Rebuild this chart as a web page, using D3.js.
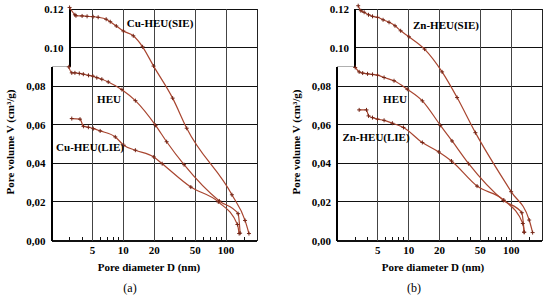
<!DOCTYPE html>
<html>
<head>
<meta charset="utf-8">
<script src="https://cdn.jsdelivr.net/npm/d3@7"></script>
<style>
  body { margin: 0; background: #fff; }
  text { font-family: "Liberation Serif", "Times New Roman", serif; }
</style>
</head>
<body>
<div id="chart"></div>
<script>
// pore diameter D (nm), pore volume V (cm3/g)
const cuSIE = [[3.0,0.1208],[3.38,0.117],[3.46,0.1165],[3.97,0.1164],[4.44,0.1162],[5.08,0.116],[5.69,0.1157],[6.81,0.1147],[7.46,0.1134],[8.54,0.1112],[10,0.1086],[12.5,0.1061],[15.4,0.1004],[19.7,0.0904],[30.2,0.0738],[41.4,0.0582],[114,0.0237],[153,0.0104],[167,0.0036]];
const cuHEU = [[2.95,0.09],[3.15,0.0869],[3.38,0.0869],[3.73,0.0866],[4.08,0.0862],[4.58,0.0856],[5.05,0.0852],[5.52,0.0844],[6.18,0.0836],[7.13,0.0822],[9.7,0.0782],[13.1,0.0725],[20.6,0.0597],[26.4,0.0512],[39,0.0393],[86,0.0205],[131,0.0139],[137,0.0038]];
const cuLIE = [[3.15,0.0632],[3.79,0.0629],[4.09,0.0592],[4.57,0.0587],[5.11,0.058],[5.95,0.0568],[8.35,0.0537],[10.1,0.0494],[13.1,0.0468],[19.8,0.0433],[23.9,0.0398],[45.4,0.0277],[84,0.02],[129,0.0083],[134,0.0036]];

const znSIE = [[3.22,0.1217],[3.42,0.1191],[3.68,0.1183],[4.06,0.117],[4.44,0.1162],[4.97,0.1157],[5.63,0.1144],[6.44,0.1131],[7.36,0.1113],[8.36,0.1087],[10.07,0.1056],[14.3,0.0992],[21.2,0.0874],[29.7,0.0741],[44.8,0.0559],[100,0.0253],[150,0.0106],[162,0.0041]];
const znHEU = [[3.01,0.0897],[3.29,0.0874],[3.56,0.0868],[3.97,0.0864],[4.44,0.0861],[4.97,0.0857],[5.76,0.0845],[7.2,0.0828],[9.7,0.0784],[13.6,0.0724],[20.4,0.0597],[26.5,0.0516],[38.5,0.0398],[84,0.0208],[127,0.0144],[134,0.0043]];
const znLIE = [[3.29,0.0677],[3.88,0.0677],[4.06,0.0646],[4.44,0.0637],[4.97,0.0629],[5.76,0.0623],[6.94,0.0608],[8.9,0.0586],[13.6,0.0508],[19.7,0.0459],[26.2,0.0412],[46.5,0.0282],[85,0.0209],[130,0.0088],[134,0.0043]];

const cuNames = ['Cu-HEU(SIE)', 'HEU', 'Cu-HEU(LIE)'];
const znNames = ['Zn-HEU(SIE)', 'HEU', 'Zn-HEU(LIE)'];
const panelLabels = ['(a)', '(b)'];

const yTicks = [0, 0.02, 0.04, 0.06, 0.08, 0.10, 0.12];
const xTicks = [5, 10, 20, 50, 100];
const xMinor = [3, 4, 6, 7, 8, 9, 30, 40, 60, 70, 80, 90, 150];
const xDomain = [2, 200];
const yDomain = [0, 0.12];
const stepD = 3;      // left edge of the extended upper part
const stepV = 0.09;   // height where the original plot ended

const xTitle = 'Pore diameter D (nm)';
const yTitle = 'Pore volume V (cm³/g)';

const width = 550, height = 300;
const svg = d3.select('#chart').append('svg')
    .attr('width', width)
    .attr('height', height)
    .attr('font-family', '"Liberation Serif", "Times New Roman", serif');

const lineColor = '#a8452f';
const markColor = '#742617';

function drawPanel(cfg) {
    const g = svg.append('g');
    const grid = g.append('g').attr('shape-rendering', 'crispEdges');
    const x = d3.scaleLog().domain(xDomain).range([cfg.x0, cfg.x1]);
    const y = d3.scaleLinear().domain(yDomain).range([240.5, 9]);

    // horizontal grid
    grid.selectAll('.hgrid')
        .data(yTicks)
        .enter().append('line')
        .attr('x1', d => d > stepV ? x(stepD) : x(xDomain[0]))
        .attr('x2', x(xDomain[1]))
        .attr('y1', d => y(d))
        .attr('y2', d => y(d))
        .attr('stroke', '#111')
        .attr('stroke-width', d => d === 0 ? 2 : 1);

    // vertical grid
    grid.selectAll('.vgrid')
        .data(xTicks)
        .enter().append('line')
        .attr('x1', d => x(d))
        .attr('x2', d => x(d))
        .attr('y1', y(yDomain[0]))
        .attr('y2', y(yDomain[1]))
        .attr('stroke', '#444')
        .attr('stroke-width', 1);

    // right border
    grid.append('line')
        .attr('x1', x(xDomain[1])).attr('x2', x(xDomain[1]))
        .attr('y1', y(0)).attr('y2', y(yDomain[1]))
        .attr('stroke', '#222').attr('stroke-width', 1);

    // left axis (lower part) and extended upper part
    grid.append('line')
        .attr('x1', x(xDomain[0])).attr('x2', x(xDomain[0]))
        .attr('y1', y(0)).attr('y2', y(stepV))
        .attr('stroke', '#000').attr('stroke-width', 2);
    grid.append('line')
        .attr('x1', x(xDomain[0])).attr('x2', x(stepD))
        .attr('y1', y(stepV)).attr('y2', y(stepV))
        .attr('stroke', '#b0b0b0').attr('stroke-width', 1);
    grid.append('line')
        .attr('x1', x(stepD)).attr('x2', x(stepD))
        .attr('y1', y(stepV)).attr('y2', y(yDomain[1]))
        .attr('stroke', '#000').attr('stroke-width', 2);

    // minor ticks on bottom axis
    grid.selectAll('.minor')
        .data(xMinor)
        .enter().append('line')
        .attr('x1', d => x(d)).attr('x2', d => x(d))
        .attr('y1', y(0)).attr('y2', y(0) - 4)
        .attr('stroke', '#111').attr('stroke-width', 1);

    // y tick labels
    g.selectAll('.ylab')
        .data(yTicks)
        .enter().append('text')
        .attr('x', d => (d > stepV ? x(stepD) : x(xDomain[0])) - 6)
        .attr('y', d => y(d) + 4)
        .attr('text-anchor', 'end')
        .attr('font-size', 11)
        .attr('font-weight', 'bold')
        .text(d => d > stepV ? d3.format('.2f')(d) : d3.format('.2f')(d).replace('.', ','));

    // x tick labels
    g.selectAll('.xlab')
        .data(xTicks)
        .enter().append('text')
        .attr('x', d => x(d))
        .attr('y', 254)
        .attr('text-anchor', 'middle')
        .attr('font-size', 11)
        .attr('font-weight', 'bold')
        .text(d => d);

    const line = d3.line()
        .x(d => x(d[0]))
        .y(d => y(d[1]))
        .curve(d3.curveMonotoneX);

    cfg.series.forEach(s => {
        g.append('path')
            .datum(s)
            .attr('fill', 'none')
            .attr('stroke', lineColor)
            .attr('stroke-width', 1.2)
            .attr('d', line);

        g.selectAll(null)
            .data(s)
            .enter().append('path')
            .attr('d', d => `M${x(d[0]) - 2},${y(d[1])}h4M${x(d[0])},${y(d[1]) - 2}v4`)
            .attr('stroke', markColor)
            .attr('stroke-width', 1);
    });

    // series names
    cfg.names.forEach((n, i) => {
        g.append('text')
            .attr('x', cfg.namePos[i][0])
            .attr('y', cfg.namePos[i][1])
            .attr('text-anchor', 'middle')
            .attr('font-size', 11)
            .attr('font-weight', 'bold')
            .text(n);
    });

    // axis titles
    g.append('text')
        .attr('x', cfg.titleX)
        .attr('y', 271)
        .attr('text-anchor', 'middle')
        .attr('font-size', 11)
        .attr('font-weight', 'bold')
        .text(xTitle);

    g.append('text')
        .attr('transform', `translate(${cfg.yTitleX},142) rotate(-90)`)
        .attr('text-anchor', 'middle')
        .attr('font-size', 11)
        .attr('font-weight', 'bold')
        .text(yTitle);

    g.append('text')
        .attr('x', cfg.titleX - 19)
        .attr('y', 292)
        .attr('text-anchor', 'middle')
        .attr('font-size', 12)
        .text(cfg.label);
}

drawPanel({
    x0: 51.5, x1: 257,
    series: [cuSIE, cuHEU, cuLIE],
    names: cuNames,
    namePos: [[160, 27], [109, 103], [90, 151]],
    titleX: 149, yTitleX: 14,
    label: panelLabels[0]
});

drawPanel({
    x0: 337, x1: 542,
    series: [znSIE, znHEU, znLIE],
    names: znNames,
    namePos: [[446, 29], [395, 103], [376, 141]],
    titleX: 433, yTitleX: 300,
    label: panelLabels[1]
});
</script>
</body>
</html>
